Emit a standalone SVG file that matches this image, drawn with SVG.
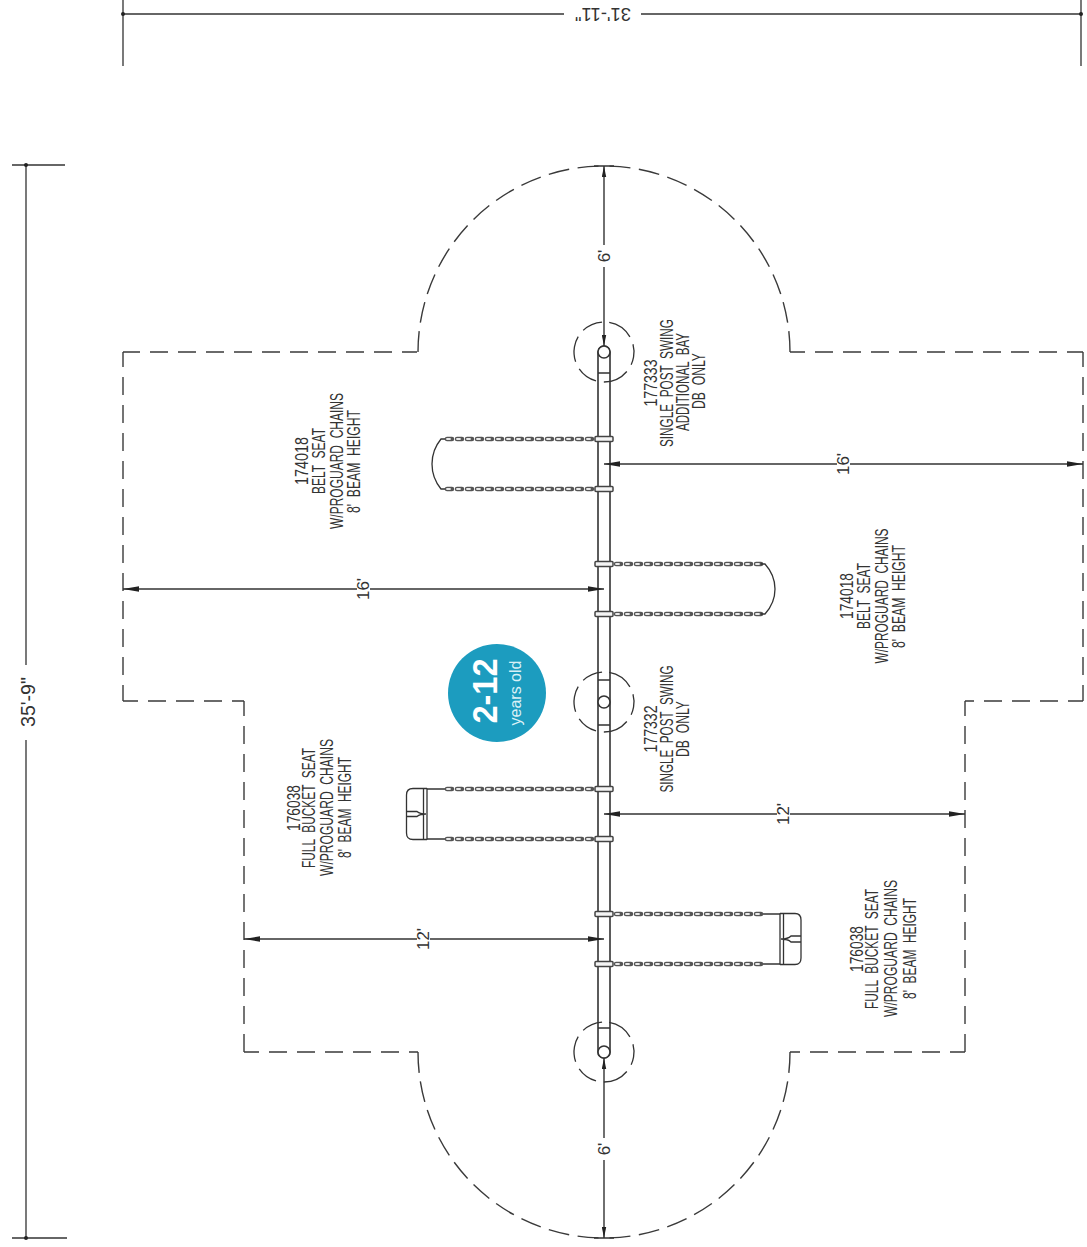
<svg xmlns="http://www.w3.org/2000/svg" width="1087" height="1247" viewBox="0 0 1087 1247">
<style>
.l{fill:none;stroke:#333;stroke-width:1.3}
.thick{fill:none;stroke:#666;stroke-width:2}
.dash{fill:none;stroke:#3a3a3a;stroke-width:1.4;stroke-dasharray:18 10;stroke-dashoffset:3}
.arc{fill:none;stroke:#3a3a3a;stroke-width:1.4;stroke-dasharray:21 8.500}
.dc{fill:none;stroke:#333;stroke-width:1.3;stroke-dasharray:26 8 21 8}
.dim{fill:none;stroke:#333;stroke-width:1.4;marker-start:url(#a);marker-end:url(#a)}
.dimv{fill:none;stroke:#333;stroke-width:1.4;marker-start:url(#b);marker-end:url(#b)}
.cha{fill:none;stroke:#555;stroke-width:4.500;stroke-linecap:round;stroke-dasharray:5 5}
.chb{fill:none;stroke:#e8e8e8;stroke-width:1.800;stroke-linecap:round;stroke-dasharray:3 7}
.cl{fill:#f4f4f4;stroke:#444;stroke-width:1.500}
.p{fill:#fff;stroke:#333;stroke-width:1.600}
text{font-family:"Liberation Sans",Arial,sans-serif;fill:#333;text-anchor:middle;white-space:pre}
.t{font-size:17.500px}
.d{font-size:17px}
</style>
<defs>
<marker id="a" viewBox="0 0 16 6" refX="16" refY="3" markerWidth="16" markerHeight="6" markerUnits="userSpaceOnUse" orient="auto-start-reverse"><path d="M0 0.300L16 3L0 5.700Z" fill="#222"/></marker>
<marker id="b" viewBox="0 0 11 5" refX="11" refY="2.500" markerWidth="11" markerHeight="5" markerUnits="userSpaceOnUse" orient="auto-start-reverse"><path d="M0 0.300L11 2.500L0 4.700Z" fill="#222"/></marker>
</defs>
<rect width="1087" height="1247" fill="#fff"/>
<g id="overall-dimensions">
<path class="thick" d="M123 14H564M641 14H1081"/>
<path class="l" d="M123 0V66M1081 0V66M26 165V665M26 740V1238"/>
<path class="thick" d="M12 165H65M12 1238H67"/>
<circle cx="123" cy="14" r="2" fill="#222"/><circle cx="1081" cy="14" r="2" fill="#222"/>
<circle cx="26" cy="165" r="2" fill="#222"/><circle cx="26" cy="1238" r="2" fill="#222"/>
<text transform="translate(603 8) rotate(180)" font-size="19" textLength="56" lengthAdjust="spacingAndGlyphs">31'-11"</text>
<text transform="translate(35 702) rotate(-90)" font-size="20" textLength="50" lengthAdjust="spacingAndGlyphs">35'-9"</text>
</g>
<g id="use-zone">
<path class="dash" d="M417 352H123"/><path class="dash" d="M123 352V701"/><path class="dash" d="M123 701H244"/>
<path class="dash" d="M244 701V1052"/><path class="dash" d="M244 1052H418"/>
<path class="dash" d="M790 352H1083"/><path class="dash" d="M1083 352V701"/><path class="dash" d="M1083 701H965"/>
<path class="dash" d="M965 701V1052"/><path class="dash" d="M965 1052H790"/>
<path class="arc" d="M418 352A186 186 0 0 1 604 166"/><path class="arc" d="M790 352A186 186 0 0 0 604 166"/>
<path class="arc" d="M418 1052A186 186 0 0 0 604 1238"/><path class="arc" d="M790 1052A186 186 0 0 1 604 1238"/>
<path class="l" d="M594 166H614M594 1238H614"/>
</g>
<g id="beam">
<path class="p" d="M598 352V1052A6 6 0 0 0 610 1052V352A6 6 0 0 0 598 352Z"/>
<path class="l" d="M598 373H610M598 680H610M598 725H610M598 1028H610"/>
</g>
<g id="connectors">
<path class="dimv" d="M604 166V346"/>
<path class="dimv" d="M604 1238V1058"/>
<path class="dim" d="M604 464H1083"/>
<path class="dim" d="M123 589H604"/>
<path class="dim" d="M604 814H965"/>
<path class="dim" d="M244 939H604"/>
</g>
<g id="dimension-labels">
<rect x="597" y="245" width="14" height="22" fill="#fff"/><rect x="597" y="1138" width="14" height="22" fill="#fff"/>
<rect x="837" y="452" width="13" height="24" fill="#fff"/><rect x="357" y="577" width="13" height="24" fill="#fff"/>
<rect x="777" y="802" width="13" height="24" fill="#fff"/><rect x="417" y="927" width="13" height="24" fill="#fff"/>
<text class="d" transform="translate(610 256) rotate(-90)">6'</text>
<text class="d" transform="translate(610 1149) rotate(-90)">6'</text>
<text class="d" transform="translate(849 464) rotate(-90)">16'</text>
<text class="d" transform="translate(369 589) rotate(-90)">16'</text>
<text class="d" transform="translate(789 814) rotate(-90)">12'</text>
<text class="d" transform="translate(429 939) rotate(-90)">12'</text>
</g>
<g id="post-177333"><circle class="p" cx="604" cy="352" r="6"/><circle class="dc" cx="604" cy="352" r="30" transform="rotate(-80 604 352)"/>
<text class="t" transform="translate(657 383) rotate(-90)" textLength="47" lengthAdjust="spacingAndGlyphs">177333</text>
<text class="t" transform="translate(673 383) rotate(-90)" textLength="128" lengthAdjust="spacingAndGlyphs">SINGLE  POST  SWING</text>
<text class="t" transform="translate(689 382) rotate(-90)" textLength="98" lengthAdjust="spacingAndGlyphs">ADDITIONAL  BAY</text>
<text class="t" transform="translate(705 381) rotate(-90)" textLength="56" lengthAdjust="spacingAndGlyphs">DB  ONLY</text>
</g>
<g id="post-177332"><circle class="p" cx="604" cy="702" r="6"/><circle class="dc" cx="604" cy="702" r="30" transform="rotate(-80 604 702)"/>
<text class="t" transform="translate(657 729) rotate(-90)" textLength="47" lengthAdjust="spacingAndGlyphs">177332</text>
<text class="t" transform="translate(673 729) rotate(-90)" textLength="127" lengthAdjust="spacingAndGlyphs">SINGLE  POST  SWING</text>
<text class="t" transform="translate(689 729) rotate(-90)" textLength="56" lengthAdjust="spacingAndGlyphs">DB  ONLY</text>
</g>
<g id="post-end"><circle class="p" cx="604" cy="1052" r="6"/><circle class="dc" cx="604" cy="1052" r="30" transform="rotate(-80 604 1052)"/></g>
<g id="belt-seat-left">
<path class="cha" d="M447 439H592M447 489H592"/><path class="chb" d="M447 439H592M447 489H592"/>
<path class="l" d="M445 439H441Q432 450 432 464T441 489H445"/>
<rect class="cl" x="595" y="436.500" width="18" height="5" rx="1"/><rect class="cl" x="595" y="486.500" width="18" height="5" rx="1"/>
<text class="t" transform="translate(308 461) rotate(-90)" textLength="48" lengthAdjust="spacingAndGlyphs">174018</text>
<text class="t" transform="translate(325 461) rotate(-90)" textLength="66" lengthAdjust="spacingAndGlyphs">BELT  SEAT</text>
<text class="t" transform="translate(342.500 461) rotate(-90)" textLength="136" lengthAdjust="spacingAndGlyphs">W/PROGUARD  CHAINS</text>
<text class="t" transform="translate(360 461.500) rotate(-90)" textLength="103" lengthAdjust="spacingAndGlyphs">8'  BEAM  HEIGHT</text>
</g>
<g id="belt-seat-right">
<path class="cha" d="M616 564H761M616 614H761"/><path class="chb" d="M616 564H761M616 614H761"/>
<path class="l" d="M761 564H765Q775 575 775 589T765 614H761"/>
<rect class="cl" x="595" y="561.500" width="18" height="5" rx="1"/><rect class="cl" x="595" y="611.500" width="18" height="5" rx="1"/>
<text class="t" transform="translate(853 596) rotate(-90)" textLength="46" lengthAdjust="spacingAndGlyphs">174018</text>
<text class="t" transform="translate(870 596) rotate(-90)" textLength="66" lengthAdjust="spacingAndGlyphs">BELT  SEAT</text>
<text class="t" transform="translate(888 596) rotate(-90)" textLength="135" lengthAdjust="spacingAndGlyphs">W/PROGUARD  CHAINS</text>
<text class="t" transform="translate(905 596.500) rotate(-90)" textLength="103" lengthAdjust="spacingAndGlyphs">8'  BEAM  HEIGHT</text>
</g>
<g id="bucket-seat-left">
<path class="cha" d="M447 789H592M447 839H592"/><path class="chb" d="M447 789H592M447 839H592"/>
<path class="thick" d="M427 789H445M427 839H445"/>
<path class="l" d="M427 788.500V839.500M423.500 788.500V839.500M427 788.500H413Q406.500 788.500 406.500 795V833Q406.500 839.500 413 839.500H427M406.500 811.500H417Q420 814 426 814Q420 814 417 816.500H406.500"/>
<rect class="cl" x="595" y="786.500" width="18" height="5" rx="1"/><rect class="cl" x="595" y="836.500" width="18" height="5" rx="1"/>
<text class="t" transform="translate(300 808) rotate(-90)" textLength="46" lengthAdjust="spacingAndGlyphs">176038</text>
<text class="t" transform="translate(315 808) rotate(-90)" textLength="120" lengthAdjust="spacingAndGlyphs">FULL  BUCKET  SEAT</text>
<text class="t" transform="translate(332.500 807.500) rotate(-90)" textLength="137" lengthAdjust="spacingAndGlyphs">W/PROGUARD  CHAINS</text>
<text class="t" transform="translate(351 807.500) rotate(-90)" textLength="101" lengthAdjust="spacingAndGlyphs">8'  BEAM  HEIGHT</text>
</g>
<g id="bucket-seat-right">
<path class="cha" d="M616 914H761M616 964H761"/><path class="chb" d="M616 914H761M616 964H761"/>
<path class="thick" d="M763 914H780M763 964H780"/>
<path class="l" d="M780 913.500V964.500M783.500 913.500V964.500M780 913.500H795Q801 913.500 801 920V958Q801 964.500 795 964.500H780M801 936H791Q788 939 781 939Q788 939 791 942H801"/>
<rect class="cl" x="595" y="911.500" width="18" height="5" rx="1"/><rect class="cl" x="595" y="961.500" width="18" height="5" rx="1"/>
<text class="t" transform="translate(863 949) rotate(-90)" textLength="46" lengthAdjust="spacingAndGlyphs">176038</text>
<text class="t" transform="translate(878 949) rotate(-90)" textLength="120" lengthAdjust="spacingAndGlyphs">FULL  BUCKET  SEAT</text>
<text class="t" transform="translate(897 948.500) rotate(-90)" textLength="137" lengthAdjust="spacingAndGlyphs">W/PROGUARD  CHAINS</text>
<text class="t" transform="translate(916 948.500) rotate(-90)" textLength="101" lengthAdjust="spacingAndGlyphs">8'  BEAM  HEIGHT</text>
</g>
<g id="age-badge">
<circle cx="497" cy="693" r="49" fill="#1c9cbf"/>
<text transform="translate(497 691) rotate(-90)" font-size="35" font-weight="700" textLength="65" lengthAdjust="spacingAndGlyphs" style="fill:#fff">2-12</text>
<text transform="translate(521 693) rotate(-90)" font-size="16" style="fill:#d9f0f6">years old</text>
</g>
</svg>
